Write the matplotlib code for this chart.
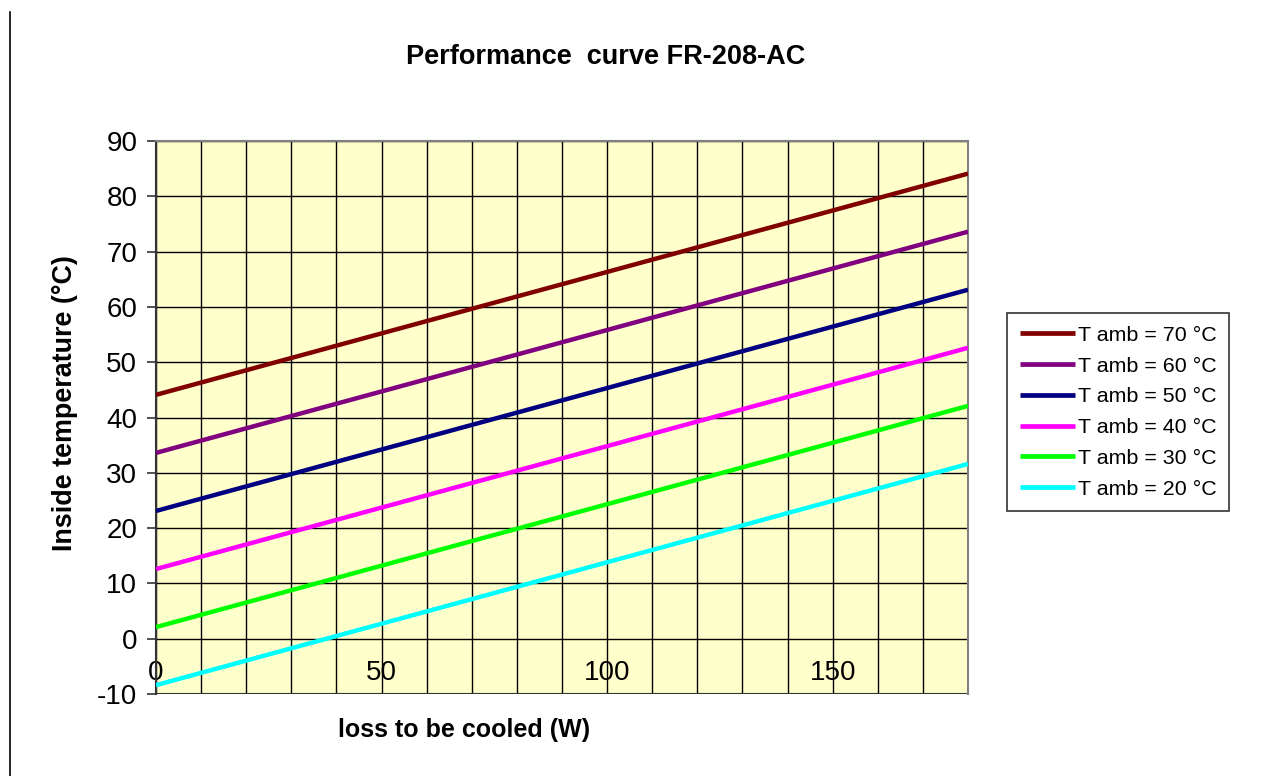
import matplotlib
matplotlib.use("Agg")
import matplotlib.pyplot as plt
from matplotlib.lines import Line2D

plt.rcParams['font.family'] = ['Liberation Sans', 'DejaVu Sans']
plt.rcParams['axes.unicode_minus'] = False

# loss to be cooled (W), end points of each straight line
loss = [0, 180]
t_amb_labels = ["T amb = 70 °C", "T amb = 60 °C", "T amb = 50 °C",
                "T amb = 40 °C", "T amb = 30 °C", "T amb = 20 °C"]
t_inside = [
    [44.1, 84.1],
    [33.6, 73.6],
    [23.1, 63.1],
    [12.6, 52.6],
    [2.1, 42.1],
    [-8.4, 31.6],
]
colors = ["#800000", "#800080", "#000080", "#FF00FF", "#00FF00", "#00FFFF"]

x_ticks = list(range(0, 181, 10))
x_labels = [str(v) if v % 50 == 0 else "" for v in x_ticks]
y_ticks = list(range(-10, 91, 10))

fig = plt.figure(figsize=(12.66, 7.76), dpi=100)
ax = fig.add_axes([156 / 1266, 82 / 776, 812 / 1266, 553 / 776])
ax.set_facecolor("#FFFFCC")

for vals, lab, c in zip(t_inside, t_amb_labels, colors):
    ax.plot(loss, vals, color=c, lw=3.2, label=lab, solid_capstyle='butt', zorder=3)

ax.set_xlim(0, 180)
ax.set_ylim(-10, 90)
ax.set_xticks(x_ticks)
ax.set_xticklabels(x_labels)
ax.set_yticks(y_ticks)
ax.grid(True, color="black", lw=1.0)
ax.set_axisbelow(True)

# x axis crosses at 0, labels hang under that line
ax.spines['bottom'].set_position(('data', 0))
ax.spines['bottom'].set_visible(False)
ax.axhline(-10, color="#333333", lw=1.5, zorder=2)
ax.tick_params(axis='x', length=0, pad=15, labelsize=20)
ax.tick_params(axis='y', length=6.5, width=1.2, color="#333333", labelsize=20, pad=7)
ax.spines['left'].set_color("#333333")
ax.spines['left'].set_linewidth(1.5)
ax.spines['top'].set_color("#808080")
ax.spines['right'].set_color("#808080")
ax.spines['top'].set_linewidth(1.5)
ax.spines['right'].set_linewidth(1.5)

fig.text(606 / 1266, 1 - 57 / 776, "Performance  curve FR-208-AC",
         ha='center', va='center', fontsize=19.5, fontweight='bold')
fig.text(464 / 1266, 1 - 730 / 776, "loss to be cooled (W)",
         ha='center', va='center', fontsize=18, fontweight='bold')
fig.text(65 / 1266, 1 - 403 / 776, "Inside temperature (°C)",
         ha='center', va='center', rotation=90, fontsize=19.4, fontweight='bold')

leg = fig.legend(loc='upper left', bbox_to_anchor=(1007 / 1266, 1 - 313 / 776),
                 frameon=True, fancybox=False, edgecolor="black", fontsize=15.4,
                 handlelength=2.6, handletextpad=0.1, borderpad=0.6,
                 labelspacing=0.55, borderaxespad=0)
leg.get_frame().set_linewidth(1.2)
for h in leg.get_lines():
    h.set_linewidth(3.4)

fig.add_artist(Line2D([10 / 1266, 10 / 1266], [0, 1 - 12 / 776],
                      color="black", lw=1.2))

fig.savefig("out.png", dpi=100)
